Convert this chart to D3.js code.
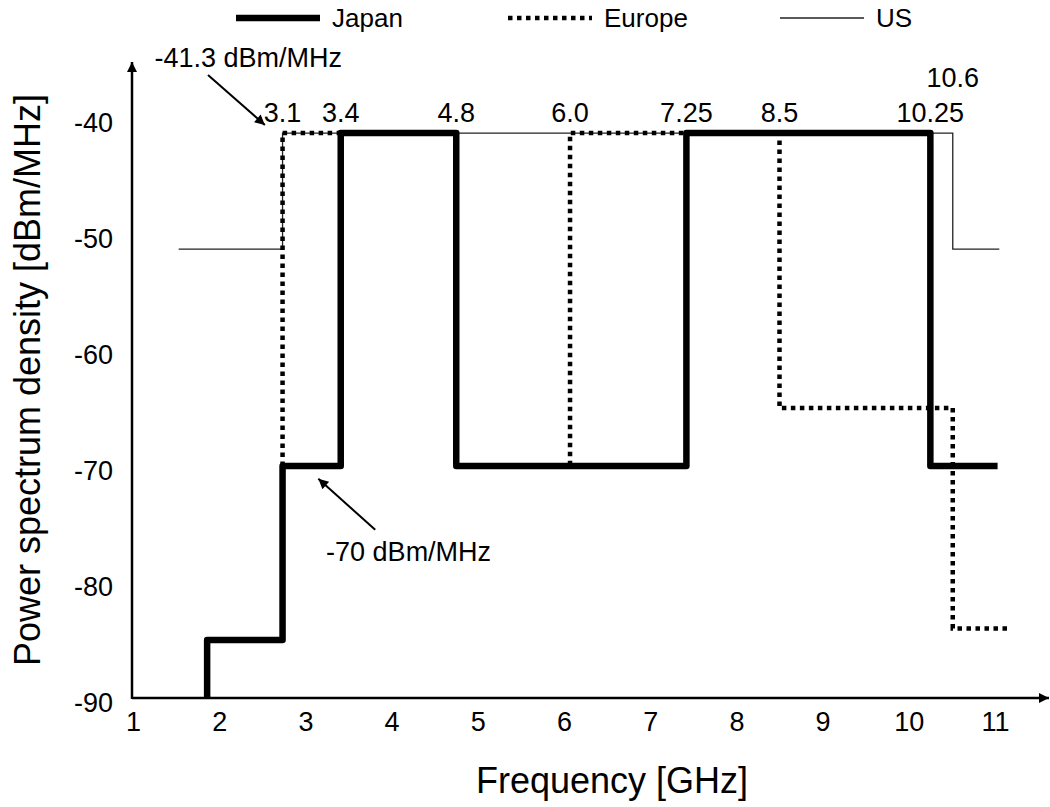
<!DOCTYPE html>
<html>
<head>
<meta charset="utf-8">
<script src="https://cdn.jsdelivr.net/npm/d3@7"></script>
<style>
body { margin: 0; background: #fff; }
text { font-family: "Liberation Sans", Arial, sans-serif; fill: #000; }
</style>
</head>
<body>
<svg width="1050" height="807"></svg>
<script>
// axis ticks
var xTicks = [1, 2, 3, 4, 5, 6, 7, 8, 9, 10, 11];
var yTicks = [-90, -80, -70, -60, -50, -40];

// band edges (GHz, where they are drawn) and the level (dBm/MHz) between two edges
var japanEdges = [1.86, 2.735, 3.41, 4.75, 7.42, 10.25, 11.03];
var japanLevels = [-85, -70, -41.3, -70, -41.3, -70];
var europeEdges = [2.735, 4.75, 6.07, 8.5, 10.51, 11.17];
var europeLevels = [-41.3, -70, -41.3, -65, -84];
var usEdges = [1.53, 2.735, 10.51, 11.05];
var usLevels = [-51.3, -41.3, -51.3];

// frequency labels over the steps
var edgeLabels = ["3.1", "3.4", "4.8", "6.0", "7.25", "8.5", "10.25"];
var edgeLabelAt = [2.735, 3.41, 4.75, 6.07, 7.42, 8.5, 10.25];

var svg = d3.select("svg");

var x = d3.scaleLinear().domain([1, 11]).range([133, 995]);
var y = d3.scaleLinear().domain([-90, -40]).range([698, 118]);

// step points: start edge, then (edge, level) pairs, then the last edge
function steps(edges, levels, base) {
  var pts = [];
  if (base != null) pts.push([edges[0], base]);
  levels.forEach(function(l, i) { pts.push([edges[i], l]); });
  pts.push([edges[edges.length - 1], levels[levels.length - 1]]);
  return pts;
}

var line = d3.line()
  .x(function(d) { return x(d[0]); })
  .y(function(d) { return y(d[1]); })
  .curve(d3.curveStepAfter);

// US thin line first, then Europe dotted, Japan thick on top
svg.append("path")
  .datum(steps(usEdges, usLevels, null))
  .attr("d", line)
  .attr("fill", "none")
  .attr("stroke", "#222")
  .attr("stroke-width", 1.3);

svg.append("path")
  .datum(steps(europeEdges, europeLevels, -70))
  .attr("d", line)
  .attr("fill", "none")
  .attr("stroke", "#000")
  .attr("stroke-width", 4.5)
  .attr("stroke-dasharray", "4.5 4.5");

svg.append("path")
  .datum(steps(japanEdges, japanLevels, -90))
  .attr("d", line)
  .attr("fill", "none")
  .attr("stroke", "#000")
  .attr("stroke-width", 6.5)
  .attr("stroke-linejoin", "round");

// axes with arrow heads
var defs = svg.append("defs");
defs.append("marker")
  .attr("id", "arrow")
  .attr("viewBox", "0 0 10 10")
  .attr("refX", 10).attr("refY", 5)
  .attr("markerWidth", 14).attr("markerHeight", 10)
  .attr("markerUnits", "userSpaceOnUse")
  .attr("orient", "auto")
  .append("path").attr("d", "M0,0L10,5L0,10Z").attr("fill", "#000");

svg.append("line")
  .attr("x1", x(1) - 1).attr("y1", y(-90))
  .attr("x2", 1049).attr("y2", y(-90))
  .attr("stroke", "#000").attr("stroke-width", 2.5)
  .attr("marker-end", "url(#arrow)");

svg.append("line")
  .attr("x1", x(1) - 1).attr("y1", y(-90) + 1)
  .attr("x2", x(1) - 1).attr("y2", 62)
  .attr("stroke", "#000").attr("stroke-width", 2.5)
  .attr("marker-end", "url(#arrow)");

var xAxis = svg.append("g")
  .attr("transform", "translate(0," + y(-90) + ")")
  .call(d3.axisBottom(x).tickValues(xTicks).tickSize(0).tickPadding(14)
    .tickFormat(function(d) { return String(d); }));
var yAxis = svg.append("g")
  .attr("transform", "translate(" + (x(1) - 20) + ",0)")
  .call(d3.axisLeft(y).tickValues(yTicks).tickSize(0).tickPadding(0)
    .tickFormat(function(d) { return String(d); }));
[xAxis, yAxis].forEach(function(a) {
  a.select(".domain").remove();
  a.selectAll("text")
    .style("font-family", "'Liberation Sans', Arial, sans-serif")
    .style("font-size", "27px")
    .attr("fill", "#000");
});
yAxis.selectAll("text").attr("dy", "0.49em");

// axis titles
svg.append("text")
  .attr("x", 612).attr("y", 793)
  .attr("text-anchor", "middle")
  .style("font-size", "36px")
  .text("Frequency [GHz]");

svg.append("text")
  .attr("transform", "translate(40,380) rotate(-90)")
  .attr("text-anchor", "middle")
  .style("font-size", "36px")
  .text("Power spectrum density [dBm/MHz]");

// frequency labels
svg.selectAll(".edge")
  .data(edgeLabels)
  .enter().append("text")
  .attr("class", "edge")
  .attr("x", function(d, i) { return x(edgeLabelAt[i]); })
  .attr("y", y(-41.3) - 11)
  .attr("text-anchor", "middle")
  .style("font-size", "27px")
  .text(function(d) { return d; });

svg.append("text")
  .attr("x", x(10.51))
  .attr("y", y(-41.3) - 46)
  .attr("text-anchor", "middle")
  .style("font-size", "27px")
  .text("10.6");

// level annotations with arrows
function note(txt, tx, ty, fromX, fromY, toX, toY) {
  svg.append("text")
    .attr("x", x(tx)).attr("y", y(ty))
    .style("font-size", "27px")
    .text(txt);
  svg.append("line")
    .attr("x1", x(fromX)).attr("y1", y(fromY))
    .attr("x2", x(toX)).attr("y2", y(toY))
    .attr("stroke", "#000").attr("stroke-width", 2)
    .attr("marker-end", "url(#arrow)");
}
note("-41.3 dBm/MHz", 1.25, -35.6, 1.87, -36.3, 2.53, -40.6);
note("-70 dBm/MHz", 3.24, -78.2, 3.81, -75.5, 3.15, -71.1);

// legend
var legend = [
  { name: "Japan", x0: 236, w: 6.5, dash: null, c: "#000" },
  { name: "Europe", x0: 508, w: 4.5, dash: "4.5 4.5", c: "#000" },
  { name: "US", x0: 780, w: 1.3, dash: null, c: "#222" }
];
legend.forEach(function(l) {
  svg.append("line")
    .attr("x1", l.x0).attr("x2", l.x0 + 84)
    .attr("y1", 18).attr("y2", 18)
    .attr("stroke", l.c).attr("stroke-width", l.w)
    .attr("stroke-dasharray", l.dash);
  svg.append("text")
    .attr("x", l.x0 + 96).attr("y", 27)
    .style("font-size", "26px")
    .text(l.name);
});
</script>
</body>
</html>
